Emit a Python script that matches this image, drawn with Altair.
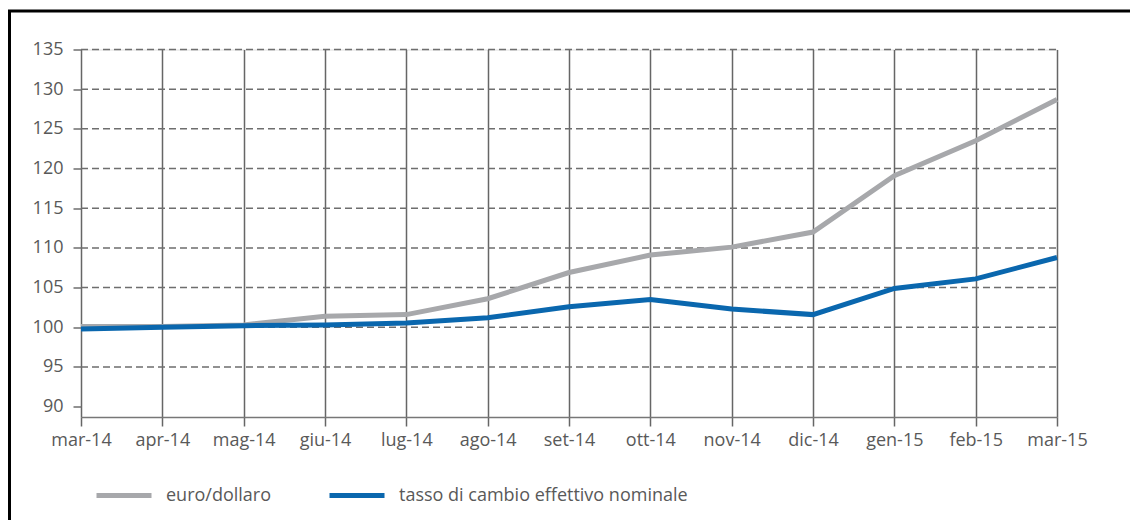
import altair as alt
import pandas as pd

months = ["mar-14", "apr-14", "mag-14", "giu-14", "lug-14", "ago-14", "set-14",
          "ott-14", "nov-14", "dic-14", "gen-15", "feb-15", "mar-15"]
euro_dollaro = [100.1, 100.1, 100.3, 101.4, 101.6, 103.6, 106.9, 109.1, 110.1,
                112.0, 119.1, 123.5, 128.7]
tasso_nominale = [99.8, 100.0, 100.2, 100.3, 100.55, 101.2, 102.6, 103.5, 102.3,
                  101.6, 104.9, 106.1, 108.8]
series_names = ["euro/dollaro", "tasso di cambio effettivo nominale"]
series_colors = ["#A7A8AB", "#0A67AE"]
y_ticks = [90, 95, 100, 105, 110, 115, 120, 125, 130, 135]
grid_values = [95, 100, 105, 110, 115, 120, 125, 130, 135]

rows = []
for m, a, b in zip(months, euro_dollaro, tasso_nominale):
    rows.append({"mese": m, "serie": series_names[0], "valore": a, "ordine": 0})
    rows.append({"mese": m, "serie": series_names[1], "valore": b, "ordine": 1})
df = pd.DataFrame(rows)

W, H = 976, 367.5
FONT = "Open Sans"
TXT = "#595959"

x_enc = alt.X("mese:O", sort=months, title=None,
              scale=alt.Scale(type="point", padding=0),
              axis=alt.Axis(labelAngle=0, grid=True, gridColor="#666666", gridWidth=1.5,
                            domainColor="#777777", domainWidth=1.5,
                            tickColor="#666666", tickWidth=1.5, tickSize=9,
                            labelPadding=5, labelFont=FONT, labelFontSize=18,
                            labelColor=TXT))
y_scale = alt.Scale(domain=[88.7, 135], nice=False, zero=False)

grid = alt.Chart(pd.DataFrame({"v": grid_values})).mark_rule(
    color="#6E6E6E", strokeWidth=1.5, strokeDash=[7, 4]
).encode(
    y=alt.Y("v:Q", scale=y_scale),
    x=alt.value(0), x2=alt.value(W),
)

lines = alt.Chart(df).mark_line(strokeWidth=5).encode(
    x=x_enc,
    y=alt.Y("valore:Q", scale=y_scale, title=None,
            axis=alt.Axis(values=y_ticks, grid=False, domain=False,
                          tickColor="#6E6E6E", tickWidth=1.5, tickSize=8,
                          labelPadding=10, labelFont=FONT, labelFontSize=18,
                          labelColor=TXT)),
    color=alt.Color("serie:N", sort=series_names,
                    scale=alt.Scale(domain=series_names, range=series_colors),
                    legend=alt.Legend(title=None, orient="none", legendX=13, legendY=416,
                                      direction="horizontal", symbolType="stroke",
                                      symbolSize=3025, symbolStrokeWidth=5,
                                      labelFont=FONT, labelFontSize=18, labelColor=TXT,
                                      labelLimit=500,
                                      labelOffset=12, columnPadding=47)),
    order=alt.Order("ordine:Q"),
    detail="serie:N",
)

one = pd.DataFrame({"k": [0]})
border_left = alt.Chart(one).mark_rule(color="black", strokeWidth=3).encode(
    x=alt.value(-71.5), y=alt.value(-38.5), y2=alt.value(H + 103)
)
border_top = alt.Chart(one).mark_rule(color="black", strokeWidth=3).encode(
    x=alt.value(-73), x2=alt.value(W + 73), y=alt.value(-38.5)
)

chart = alt.layer(grid, lines, border_left, border_top).properties(
    width=W, height=H,
    padding={"left": 73, "top": 41.5, "right": 73, "bottom": 103},
    autosize=alt.AutoSizeParams(type="none"),
).configure_view(stroke=None).configure(background="white")

chart.save("out.html", embed_options={"renderer": "svg", "actions": False})
